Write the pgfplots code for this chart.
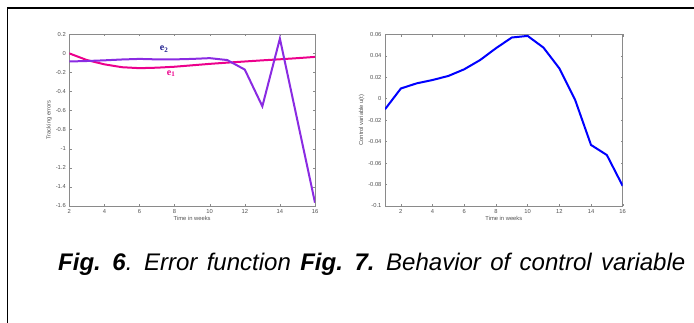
\documentclass[border=0pt]{standalone}
\usepackage{pgfplots}
\pgfplotsset{compat=1.18}
\usepackage{fontspec}
\setmainfont{Liberation Sans}
\newfontfamily\tnr{Liberation Serif}
\definecolor{eviolet}{HTML}{8A2BE2}
\definecolor{enavy}{HTML}{1C1C8C}
\definecolor{ticklab}{HTML}{505050}
\definecolor{frame}{HTML}{8A8A8A}
\begin{document}
\begin{tikzpicture}
\useasboundingbox (0pt,0pt) rectangle (694pt,322pt);
\draw[line width=1.5pt,black] (7.5pt,-2pt) -- (7.5pt,314pt) -- (700pt,314pt);
\pgfplotsset{
  every axis/.append style={
    scale only axis,
    axis line style={frame, line width=0.6pt},
    tick style={frame, line width=0.4pt},
    major tick length=2.2pt,
    tick align=inside,
    tick label style={font=\fontsize{5.8}{6}\selectfont, text=ticklab},
    label style={font=\fontsize{5.8}{6.5}\selectfont, text=ticklab},
    /pgf/number format/assume math mode=true,
    clip=true,
  }
}
\begin{axis}[
  at={(69.3pt,116pt)}, anchor=south west, width=245.7pt, height=171.7pt,
  xmin=2, xmax=16, ymin=-1.6, ymax=0.2,
  xtick={2,4,...,16},
  ytick={-1.6,-1.4,...,0.2},
  yticklabels={-1.6,-1.4,-1.2,-1,-0.8,-0.6,-0.4,-0.2,0,0.2},
  xlabel={Time in weeks}, ylabel={Tracking errors},
  xlabel style={yshift=4pt}, ylabel style={yshift=-3pt},
]
\addplot[magenta, line width=2pt] coordinates {
(2,0) (3,-0.07) (4,-0.115) (5,-0.145) (6,-0.155) (7,-0.15) (8,-0.14) (9,-0.125) (10,-0.11) (11,-0.097) (12,-0.085) (13,-0.073) (14,-0.062) (15,-0.05) (16,-0.037)};
\addplot[eviolet, line width=2pt] coordinates {
(2,-0.085) (3,-0.08) (4,-0.073) (5,-0.064) (6,-0.058) (7,-0.063) (8,-0.063) (9,-0.058) (10,-0.05) (11,-0.07) (12,-0.17) (13,-0.555) (14,0.155) (16,-1.565)};
\node[enavy, font=\tnr\bfseries\fontsize{10}{11}\selectfont] at (axis cs:7.4,0.045) {e\textsubscript{2}};
\node[magenta, font=\tnr\bfseries\fontsize{10}{11}\selectfont] at (axis cs:7.8,-0.21) {e\textsubscript{1}};
\end{axis}
\begin{axis}[
  at={(385pt,116pt)}, anchor=south west, width=237.7pt, height=171.7pt,
  xmin=1, xmax=16, ymin=-0.1, ymax=0.06,
  xtick={2,4,...,16},
  ytick={-0.1,-0.08,...,0.06},
  yticklabels={-0.1,-0.08,-0.06,-0.04,-0.02,0,0.02,0.04,0.06},
  xlabel={Time in weeks}, ylabel={Control variable u(t)},
  xlabel style={yshift=4pt}, ylabel style={yshift=-3pt},
]
\addplot[blue, line width=2pt] coordinates {
(1,-0.0099) (2,0.0095) (3,0.0143) (4,0.0174) (5,0.0212) (6,0.0274) (7,0.036) (8,0.047) (9,0.057) (10,0.0585) (11,0.0476) (12,0.0283) (13,-0.0012) (14,-0.0431) (15,-0.0525) (16,-0.0813)};
\end{axis}
\node[anchor=base west, font=\fontsize{24}{26}\selectfont\itshape, inner sep=0] at (58pt,52pt) {\spaceskip=9.4pt\relax\textbf{Fig. 6}. Error function \textbf{Fig. 7.} Behavior of control variable};
\end{tikzpicture}
\end{document}
